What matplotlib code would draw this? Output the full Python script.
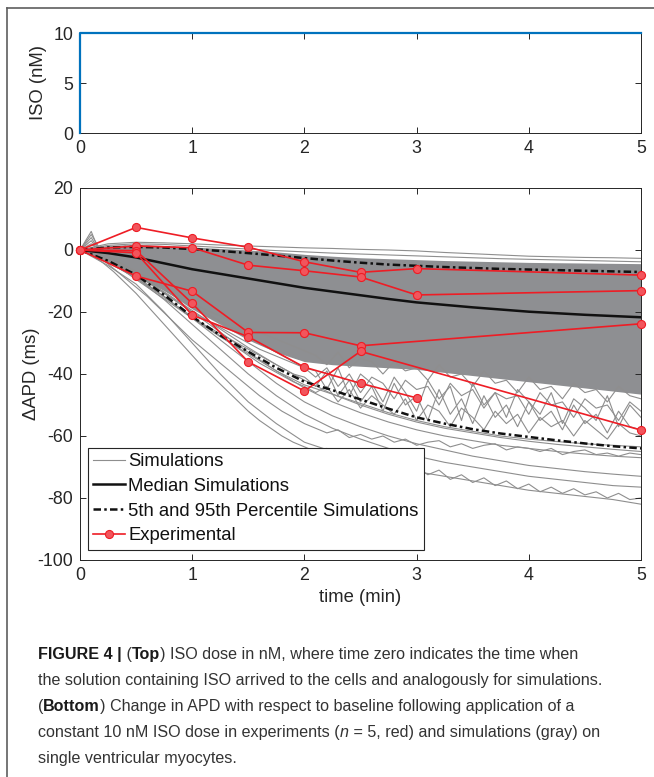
import numpy as np
import matplotlib
matplotlib.use("Agg")
import matplotlib.pyplot as plt
from matplotlib.lines import Line2D
from matplotlib.transforms import IdentityTransform

# ---- data ----
iso_time = [0, 0, 5]
iso_dose = [0, 10, 10]

# coarse time grid (min) used by the smooth traces
t_coarse = np.linspace(0, 5, 21)
# fine time grid (min) used by the noisy traces
t_fine = np.linspace(0, 5, 51)

median_sim = [0, -1.0, -2.4, -4.3, -6.2, -7.7, -9.2, -10.7, -12.2, -13.4, -14.6, -15.8,
              -16.9, -17.7, -18.5, -19.2, -19.9, -20.4, -20.9, -21.3, -21.7]
p95_sim = [0, 0.8, 1.0, 0.8, 0.3, -0.3, -1.0, -1.8, -2.6, -3.4, -4.1, -4.7,
           -5.1, -5.5, -5.8, -6.1, -6.3, -6.5, -6.7, -6.9, -7.1]
p5_sim = [0, -3.5, -8.0, -14.5, -21.5, -27.5, -32.8, -38.0, -42.5, -45.2, -48.2, -51.2,
          -54.0, -56.0, -57.8, -59.2, -60.3, -61.4, -62.4, -63.3, -64.0]

# envelope of the densely overlapping simulations
band_top = [0, 1.5, 1.8, 1.5, 1.0, 0.5, 0.0, -0.6, -1.4, -2.0, -2.5, -2.8,
            -3.1, -3.4, -3.6, -3.8, -4.0, -4.1, -4.2, -4.3, -4.4]
band_low = [0, -3.5, -8.0, -13.0, -19.0, -24.0, -29.0, -33.0, -36.0, -37.0, -37.5, -38.0,
            -38.5, -39.5, -40.5, -41.5, -42.5, -43.5, -44.5, -45.5, -46.5]

# individual simulations outside the dense band (coarse grid)
sim_top1 = [0, 2.0, 2.5, 2.3, 2.0, 1.6, 1.3, 1.0, 0.7, 0.5, 0.2, 0.0,
            -0.3, -0.8, -1.2, -1.6, -2.0, -2.2, -2.4, -2.5, -2.7]
sim_top2 = [0, 1.5, 2.0, 1.8, 1.3, 0.8, 0.3, -0.2, -0.6, -1.0, -1.3, -1.6,
            -1.9, -2.2, -2.5, -2.8, -3.0, -3.2, -3.4, -3.6, -3.8]
sim_low1 = [0, -5, -11, -20, -30, -40, -49, -56, -62, -65, -67.5, -69.5,
            -71.5, -73, -74.5, -76, -77.5, -78.5, -79.5, -80.5, -82]
sim_low3 = [0, -4, -9, -16, -24, -32, -40, -47, -53, -57.5, -61, -64,
            -66.5, -68.5, -70, -71.5, -73, -74, -75, -76, -76.5]
sim_low4 = [0, -4, -9, -15, -22, -29, -36, -43, -49, -53.5, -57, -60,
            -62.5, -64.5, -66.5, -68, -69.5, -70.5, -71.5, -72.3, -73]
sim_low5 = [0, -3.5, -8, -14, -20, -26.5, -33, -39, -44.5, -49, -52.5, -55.5,
            -58, -60, -61.5, -63, -64, -65, -65.8, -66.5, -67]
sim_low6 = [0, -3.5, -8, -13.5, -19.5, -25.5, -31.5, -37, -42, -46.5, -50, -53,
            -55.5, -57.5, -59, -60.5, -61.7, -62.7, -63.5, -64.3, -65]
sim_low7 = [0, -3.5, -8.5, -15, -22, -28, -33.5, -39, -43.5, -46.5, -49.5, -52.5,
            -55, -57, -58.5, -60, -61, -61.8, -62.5, -63, -63.5]

# noisy simulations (fine grid)
sim_noisy1 = [0, 4, -2, -4, -6, -8, -10, -12, -14, -16, -18, -20, -22, -24, -26, -28, -30,
              -32, -34, -36, -38,
              -41, -38, -44, -40, -46, -41, -43, -48, -42, -45, -44, -50, -43, -47, -45,
              -51, -46, -48, -47, -53, -46, -50, -49, -54, -48, -51, -50, -55, -49, -52]
sim_noisy2 = [0, 6, -3, -5, -7, -9.5, -12, -14.5, -17, -19.5, -22, -24, -26, -28, -30, -32,
              -34, -36, -38, -40, -41,
              -44, -39, -47, -42, -49, -44, -52, -43, -50, -47, -55, -45, -53, -48, -56,
              -47, -54, -50, -57, -49, -55, -52, -58, -50, -56, -53, -59, -52, -57, -58]
sim_noisy3 = [0, 2, -1, -3, -5, -7, -9, -11, -13, -15, -17, -19, -20.5, -22, -23.5, -25,
              -26.5, -28, -29.5, -31, -32.5,
              -34, -37, -33, -38, -35, -36, -40, -36, -39, -38, -42, -37, -41, -40, -44,
              -39, -43, -42, -46, -41, -45, -44, -48, -43, -46, -45, -49, -44, -47, -48]
sim_noisy4 = [0, -1, -3, -6, -9, -12, -15, -18.5, -22, -25.5, -29, -32, -35, -38, -41, -44,
              -47, -49.5, -52, -54, -56,
              -57.5, -59, -58, -60.5, -59.5, -61, -60, -62, -61, -63, -62, -61.5, -63.5,
              -62.5, -64, -63, -62.5, -64.5, -63.5, -64, -65, -64, -66, -65, -64.5, -66,
              -65.5, -66.5, -65.5, -66]
sim_noisy5 = [0, -1.5, -4, -7, -10.5, -14, -18, -22, -26, -30, -34, -38, -41.5, -45, -48.5,
              -52, -55, -57.5, -60, -62, -63.5,
              -65, -64, -67, -66, -68.5, -67, -70, -69, -71.5, -70, -72.5, -71, -74, -72.5,
              -75, -73.5, -76, -74.5, -77, -75.5, -78, -76.5, -78.5, -77, -79, -78, -80,
              -78.5, -80.5, -80]
sim_noisy6 = [0, 5, -1, -3, -5, -7.5, -10, -12.5, -15, -17.5, -20, -22, -24, -26, -28, -30,
              -32, -33.5, -35, -36.5, -38,
              -39, -45, -38, -47, -40, -43, -49, -41, -46, -52, -42, -48, -44, -55, -43,
              -50, -46, -54, -45, -49, -53, -46, -56, -48, -51, -55, -47, -57, -50, -54]
sim_noisy7 = [0, 3, -2, -4, -6.5, -9, -11.5, -14, -16.5, -19, -21.5, -24, -26.5, -29, -31.5,
              -34, -36.5, -38.5, -40.5, -42.5, -44,
              -46, -44, -49, -45, -51, -47, -50, -53, -48, -55, -50, -52, -57, -51, -54,
              -58, -52, -56, -53, -59, -54, -57, -55, -60, -55, -58, -61, -56, -59, -60]

# experiments (nan = no recording at that time)
exp_time = [0, 0.5, 1, 1.5, 2, 2.5, 3, 5]
exp_1 = [0, 7.3, 3.9, 0.9, -3.8, -7.2, -6.0, -8.1]
exp_2 = [0, 1.3, 0.75, -4.9, -6.7, -8.7, -14.5, -13.1]
exp_3 = [0, -8.4, -13.3, -26.6, -26.7, -30.9, np.nan, -23.8]
exp_4 = [0, -0.2, -17.2, -36.1, -45.5, -32.7, np.nan, -58.1]
exp_5 = [0, -0.9, -21.0, -28.0, -37.8, -43.0, -47.7, np.nan]

# ---- styling ----
FONT = ["Liberation Sans", "DejaVu Sans"]
TXT = "#262626"
SIM_GRAY = "#8e8e8e"
BAND_GRAY = "#8e8f92"
RED = "#ee1d25"
PCT_DASH = (3.0, 1.3, 1.0, 1.3)

plt.rcParams["font.family"] = FONT
plt.rcParams["font.size"] = 12.5
plt.rcParams["axes.unicode_minus"] = False

W, H = 654, 777
fig = plt.figure(figsize=(W / 100, H / 100), dpi=100)


def style_axes(ax):
    for sp in ax.spines.values():
        sp.set_color(TXT)
        sp.set_linewidth(0.7)
    ax.tick_params(direction="in", top=True, right=True, length=4, width=0.7,
                   colors=TXT, labelsize=12.8, pad=5)


# top panel: ISO dose
ax1 = fig.add_axes([80 / W, 1 - 133 / H, 561 / W, 100 / H])
ax1.plot(iso_time, iso_dose, color="#0072bd", lw=1.6, clip_on=False, zorder=5)
ax1.set_xlim(0, 5)
ax1.set_ylim(0, 10)
ax1.set_yticks([0, 5, 10])
ax1.set_xticks(range(6))
ax1.set_ylabel("ISO (nM)", fontsize=13.3, color=TXT)
ax1.yaxis.set_label_coords(-33 / 561, 0.5)
style_axes(ax1)

# bottom panel: change in APD
ax2 = fig.add_axes([80 / W, 1 - 560 / H, 561 / W, 372 / H])
ax2.fill_between(t_coarse, band_low, band_top, color=BAND_GRAY, lw=0, zorder=1)
for s in [sim_top1, sim_top2, sim_low1, sim_low3, sim_low4, sim_low5, sim_low6, sim_low7]:
    ax2.plot(t_coarse, s, color=SIM_GRAY, lw=0.8, zorder=1)
for s in [sim_noisy1, sim_noisy2, sim_noisy3, sim_noisy4, sim_noisy5, sim_noisy6, sim_noisy7]:
    ax2.plot(t_fine, s, color=SIM_GRAY, lw=0.8, zorder=1)

ax2.plot(t_coarse, median_sim, color="#111111", lw=1.8, zorder=3)
ax2.plot(t_coarse, p95_sim, color="#111111", lw=1.8, dashes=PCT_DASH, zorder=3)
ax2.plot(t_coarse, p5_sim, color="#111111", lw=1.8, dashes=PCT_DASH, zorder=3)

et = np.array(exp_time)
for e in [exp_1, exp_2, exp_3, exp_4, exp_5]:
    v = np.array(e, dtype=float)
    m = ~np.isnan(v)
    ax2.plot(et[m], v[m], color=RED, lw=1.2, marker="o", ms=5.8,
             mfc="#f2555c", mec=RED, mew=0.8, zorder=4, clip_on=False)

ax2.set_xlim(0, 5)
ax2.set_ylim(-100, 20)
ax2.set_yticks(range(-100, 21, 20))
ax2.set_xticks(range(6))
ax2.set_xlabel("time (min)", fontsize=13.3, color=TXT, labelpad=4)
ax2.set_ylabel("\u0394APD (ms)", fontsize=13.3, color=TXT)
ax2.yaxis.set_label_coords(-40 / 561, 0.5)
style_axes(ax2)

handles = [
    Line2D([], [], color=SIM_GRAY, lw=0.8),
    Line2D([], [], color="#111111", lw=1.8),
    Line2D([], [], color="#111111", lw=1.8, dashes=PCT_DASH),
    Line2D([], [], color=RED, lw=1.2, marker="o", ms=5.8, mfc="#f2555c", mec=RED, mew=0.8),
]
labels = ["Simulations", "Median Simulations", "5th and 95th Percentile Simulations", "Experimental"]
leg = ax2.legend(handles, labels, loc="lower left", bbox_to_anchor=(0.014, 0.027),
                 fontsize=13.3, frameon=True, fancybox=False, framealpha=1,
                 edgecolor=TXT, handlelength=1.7, handletextpad=0.2,
                 labelspacing=0.42, borderpad=0.3, borderaxespad=0)
leg.get_frame().set_linewidth(0.8)
for txt in leg.get_texts():
    txt.set_color("#111111")

# outer frame (left and top edges)
fig.add_artist(Line2D([6.5 / W, 6.5 / W], [0, 1 - 8 / H], color="#5e5e5e", lw=1.2))
fig.add_artist(Line2D([6.5 / W, 1], [1 - 8 / H, 1 - 8 / H], color="#5e5e5e", lw=1.2))

# caption with mixed bold / italic runs
renderer = fig.canvas.get_renderer()
cap_size = 11.6
cap_left = 38
cap_lines = [
    [("FIGURE 4 |", "bold", "normal"), (" (", "normal", "normal"), ("Top", "bold", "normal"),
     (") ISO dose in nM, where time zero indicates the time when", "normal", "normal")],
    [("the solution containing ISO arrived to the cells and analogously for simulations.", "normal", "normal")],
    [("(", "normal", "normal"), ("Bottom", "bold", "normal"),
     (") Change in APD with respect to baseline following application of a", "normal", "normal")],
    [("constant 10 nM ISO dose in experiments (", "normal", "normal"), ("n", "normal", "italic"),
     (" = 5, red) and simulations (gray) on", "normal", "normal")],
    [("single ventricular myocytes.", "normal", "normal")],
]
cap_base = [659, 685, 711, 737, 763]


def run_width(s, weight, style):
    probe = fig.text(0, 0, s + "|", fontsize=cap_size, fontweight=weight, fontstyle=style)
    bar = fig.text(0, 0, "|", fontsize=cap_size, fontweight=weight, fontstyle=style)
    w = probe.get_window_extent(renderer).width - bar.get_window_extent(renderer).width
    probe.remove()
    bar.remove()
    return w


for runs, yb in zip(cap_lines, cap_base):
    x = cap_left
    for s, weight, style in runs:
        fig.text(x, H - yb, s, fontsize=cap_size, fontweight=weight, fontstyle=style,
                 color="#1a1a1a" if weight == "bold" else "#333333",
                 va="baseline", ha="left", transform=IdentityTransform())
        x += run_width(s, weight, style)

fig.savefig("out.png", dpi=100)
